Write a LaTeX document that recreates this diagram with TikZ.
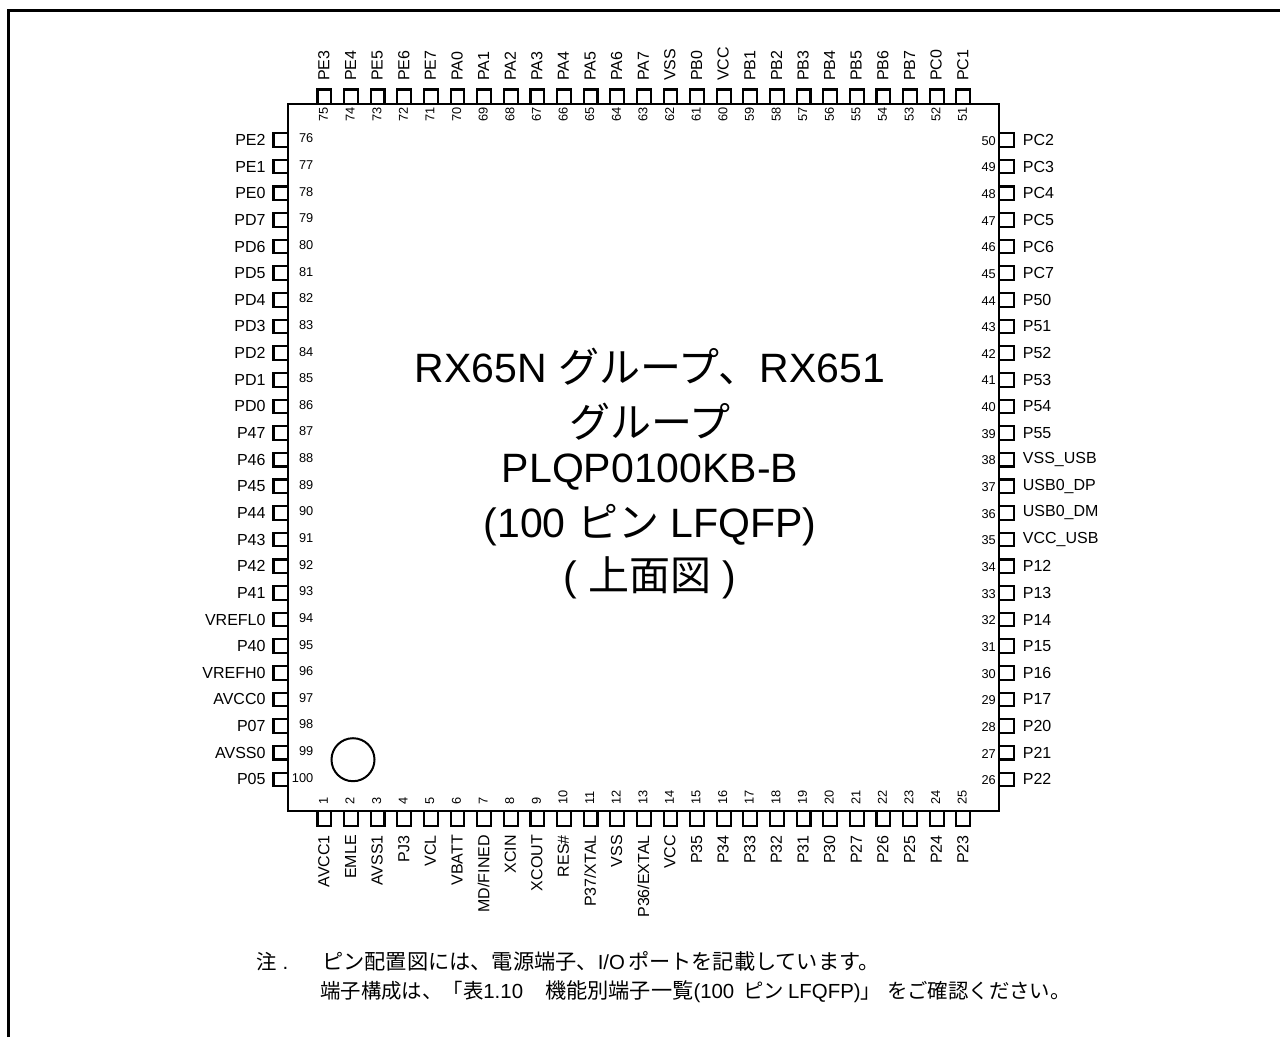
\documentclass[tikz,border=0pt]{standalone}
\usepackage{fontspec}
\setmainfont{Liberation Sans}
\newfontfamily\cjk{Noto Sans CJK JP}
\newcommand{\jp}[1]{{\cjk #1}}
\newcommand{\jq}[1]{{\cjk\fontsize{21.2}{21.2}\selectfont #1}}
\tikzset{
  x=1pt, y=-1pt,
  ln/.style={line width=2.1pt},
  padv/.style={draw, line width=2.1pt, fill=white, inner sep=0pt, minimum width=13.8pt, minimum height=14.8pt},
  padh/.style={draw, line width=2.1pt, fill=white, inner sep=0pt, minimum width=14.8pt, minimum height=13.6pt},
  lab/.style={inner sep=0pt, font=\fontsize{16}{16}\selectfont},
  num/.style={inner sep=0pt, font=\fontsize{12.8}{12.8}\selectfont},
  title/.style={inner sep=0pt, anchor=base, font=\fontsize{41}{41}\selectfont},
  note/.style={inner sep=0pt, anchor=base west, font=\fontsize{20.4}{20.4}\selectfont},
}
\begin{document}
\begin{tikzpicture}
\useasboundingbox (0,0) rectangle (1280,1037);
\draw[line width=3pt] (8.5,1037) -- (8.5,10.5) -- (1280,10.5);
% pins
\foreach \n/\t in {75/PE3,74/PE4,73/PE5,72/PE6,71/PE7,70/PA0,69/PA1,68/PA2,67/PA3,66/PA4,65/PA5,64/PA6,63/PA7,62/VSS,61/PB0,60/VCC,59/PB1,58/PB2,57/PB3,56/PB4,55/PB5,54/PB6,53/PB7,52/PC0,51/PC1}{
  \pgfmathsetmacro\px{324.4+(75-\n)*26.62}
  \node[padv] (pin\n) at (\px,96.9) {};
  \node[lab,rotate=90,anchor=west] (lab\n) at (\px-0.5,81) {\t};
  \node[num,rotate=90,anchor=east] (num\n) at (\px-0.8,107) {\n};
}
\foreach \n/\t in {1/AVCC1,2/EMLE,3/AVSS1,4/PJ3,5/VCL,6/VBATT,7/{MD/FINED},8/XCIN,9/XCOUT,10/RES\#,11/{P37/XTAL},12/VSS,13/{P36/EXTAL},14/VCC,15/P35,16/P34,17/P33,18/P32,19/P31,20/P30,21/P27,22/P26,23/P25,24/P24,25/P23}{
  \pgfmathsetmacro\px{324.4+(\n-1)*26.62}
  \node[padv] (pin\n) at (\px,818.2) {};
  \node[lab,rotate=90,anchor=east] (lab\n) at (\px-0.5,835) {\t};
  \node[num,rotate=90,anchor=west] (num\n) at (\px-1,805) {\n};
}
\foreach \n/\t in {76/PE2,77/PE1,78/PE0,79/PD7,80/PD6,81/PD5,82/PD4,83/PD3,84/PD2,85/PD1,86/PD0,87/P47,88/P46,89/P45,90/P44,91/P43,92/P42,93/P41,94/VREFL0,95/P40,96/VREFH0,97/AVCC0,98/P07,99/AVSS0,100/P05}{
  \pgfmathsetmacro\py{140+(\n-76)*26.64}
  \node[padh] (pin\n) at (280.9,\py) {};
  \node[lab,anchor=east] (lab\n) at (265.7,\py) {\t};
  \node[num,anchor=east] (num\n) at (313.5,\py-1.5) {\n};
}
\foreach \n/\t in {50/PC2,49/PC3,48/PC4,47/PC5,46/PC6,45/PC7,44/P50,43/P51,42/P52,41/P53,40/P54,39/P55,38/VSS\_USB,37/USB0\_DP,36/USB0\_DM,35/VCC\_USB,34/P12,33/P13,32/P14,31/P15,30/P16,29/P17,28/P20,27/P21,26/P22}{
  \pgfmathsetmacro\py{140+(50-\n)*26.64}
  \node[padh] (pin\n) at (1006.4,\py) {};
  \node[lab,anchor=west] (lab\n) at (1022.7,\py) {\t};
  \node[num,anchor=east] (num\n) at (996,\py+0.8) {\n};
}
% package body
\draw[ln] (288,104.3) rectangle (999,810.7);
\node[draw,circle,line width=2pt,inner sep=0pt,minimum size=43pt] (mark) at (353,759.7) {};
% title
\node[title] (t1) at (650,382) {RX65N \jp{グループ、}RX651};
\node[title] (t2) at (650,437) {\jp{グループ}};
\node[title] (t3) at (650,482) {PLQP0100KB-B};
\node[title] (t4) at (650,537) {(100 \jp{ピン} LFQFP)};
\node[title] (t5) at (650,590) {( \jp{上面図} )};
% note
\node[note] (n0) at (256,969) {\jp{注}\hspace{6pt}.};
\node[note] (n1) at (322,969) {\jq{ピン配置図には、電源端子、}I/O\hspace{3pt}\jq{ポートを記載しています。}};
\node[note] (n2) at (320,998) {\jp{端子構成は、「表}1.10\hspace{22pt}\jq{機能別端子一覧}(100\hspace{9pt}\jp{ピン}\hspace{4pt}LFQFP)\jp{」}\hspace{6pt}\jp{をご確認ください。}};
\end{tikzpicture}
\end{document}
